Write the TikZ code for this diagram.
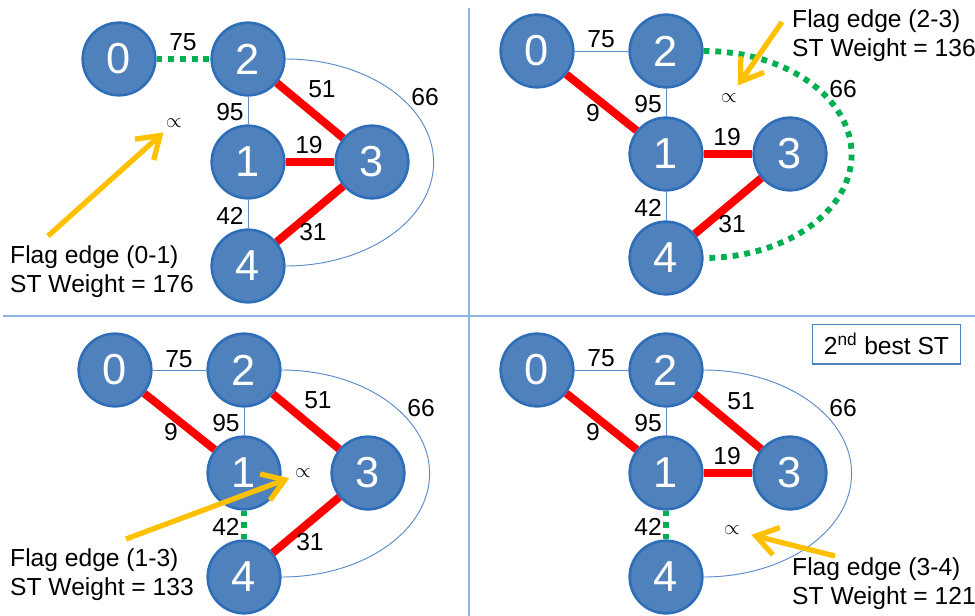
\documentclass[tikz,border=0pt]{standalone}
\usepackage{fontspec}
\setmainfont{Liberation Sans}
\usetikzlibrary{arrows.meta}

\definecolor{vfill}{HTML}{4F81BD}
\definecolor{vborder}{HTML}{2E6DB8}
\definecolor{linkblue}{HTML}{5B8BC9}
\definecolor{treered}{HTML}{FF0000}
\definecolor{flaggreen}{HTML}{00B050}
\definecolor{arrowgold}{HTML}{FFC000}
\definecolor{rule}{HTML}{8EB4E3}

\tikzset{
  vertex/.style={circle, fill=vfill, draw=vborder, line width=2.2pt,
    minimum size=62pt, inner sep=0pt, text=white,
    font=\fontsize{37}{40}\selectfont},
  weight/.style={inner sep=0pt, font=\fontsize{21}{24}\selectfont},
  link/.style={draw=linkblue, line width=0.8pt},
  tree/.style={draw=treered, line width=6.8pt},
  flag/.style={draw=flaggreen, line width=5pt, dash pattern=on 5pt off 5pt},
  pointer/.style={draw=arrowgold, line width=4.5pt,
    -{Straight Barb[length=18pt, width=24pt]}},
  inf/.style={inner sep=0pt, font=\fontsize{17}{20}\selectfont},
  note/.style={align=left, inner sep=0pt, anchor=west,
    font=\fontsize{21}{24.7}\selectfont},
  panelrule/.style={draw=rule, line width=1.2pt},
  titlebox/.style={draw=vfill, line width=1pt, minimum width=127pt,
    minimum height=34pt, inner sep=0pt, font=\fontsize{21}{24}\selectfont}
}

\begin{document}
\begin{tikzpicture}[x=0.03cm, y=-0.03cm]
  \useasboundingbox (0,0) rectangle (975,616);

  % panel rules
  \draw[panelrule] (469,8) -- (469,616);
  \draw[panelrule] (3,316) -- (975,316);

  % the same five vertices in every panel
  \foreach \p/\sx/\sy/\ty in {a/248/59/-17, b/666/51/-12, c/244/370/-11, d/666/370/-12} {
    \begin{scope}[shift={(\sx,\sy)}]
      \node[vertex] (\p2) at (0,0) {2};
      \node[vertex] (\p0) at (-129,0) {0};
      \node[vertex] (\p1) at (0,103) {1};
      \node[vertex] (\p3) at (124,103) {3};
      \node[vertex] (\p4) at (0,207) {4};
      \node[weight] (\p w75) at (-65,\ty) {75};
      \node[weight] (\p w95) at (-18,53) {95};
      \node[weight] (\p w42) at (-18,157) {42};
      \node[weight] (\p w66) at (177,38) {66};
    \end{scope}
  }

  % top left
  \draw[flag] (a0) -- (a2);
  \draw[link] (a2) -- (a1);
  \draw[tree] (a2) -- (a3);
  \draw[tree] (a1) -- (a3);
  \draw[link] (a1) -- (a4);
  \draw[tree] (a3) -- (a4);
  \draw[link] (a2.east) arc[start angle=-90, end angle=90, x radius=148, y radius=103.5];
  \node[weight] (aw51) at (322,89) {51};
  \node[weight] (aw19) at (309,145) {19};
  \node[weight] (aw31) at (313,232) {31};
  \node[inf] (ainf) at (174,123) {$\propto$};
  \coordinate (atail) at (48,236);
  \draw[pointer, shorten >=12pt] (atail) -- (ainf.center);
  \node[note] (anote) at (10,272) {Flag edge (0-1)\\ST Weight = 176};

  % top right
  \draw[link] (b0) -- (b2);
  \draw[tree] (b0) -- (b1);
  \draw[link] (b2) -- (b1);
  \draw[tree] (b1) -- (b3);
  \draw[link] (b1) -- (b4);
  \draw[tree] (b3) -- (b4);
  \draw[flag] (b2.east) arc[start angle=-90, end angle=90, x radius=148, y radius=103.5];
  \node[weight] (bw9) at (593,113) {9};
  \node[weight] (bw19) at (727,137) {19};
  \node[weight] (bw31) at (732,224) {31};
  \node[inf] (binf) at (729,98) {$\propto$};
  \coordinate (btail) at (782,22);
  \draw[pointer, shorten >=13pt] (btail) -- (binf.center);
  \node[note] (bnote) at (792,36) {Flag edge (2-3)\\ST Weight = 136};

  % bottom left
  \draw[link] (c0) -- (c2);
  \draw[tree] (c0) -- (c1);
  \draw[link] (c2) -- (c1);
  \draw[tree] (c2) -- (c3);
  \draw[flag] (c1) -- (c4);
  \draw[tree] (c3) -- (c4);
  \draw[link] (c2.east) arc[start angle=-90, end angle=90, x radius=148, y radius=103.5];
  \node[weight] (cw51) at (318,400) {51};
  \node[weight] (cw9) at (171,432) {9};
  \node[weight] (cw31) at (310,542) {31};
  \node[inf] (cinf) at (303,473) {$\propto$};
  \coordinate (ctail) at (126,539);
  \draw[pointer, shorten >=12.5pt] (ctail) -- (cinf.center);
  \node[note] (cnote) at (10,575) {Flag edge (1-3)\\ST Weight = 133};

  % bottom right
  \draw[link] (d0) -- (d2);
  \draw[tree] (d0) -- (d1);
  \draw[link] (d2) -- (d1);
  \draw[tree] (d2) -- (d3);
  \draw[tree] (d1) -- (d3);
  \draw[flag] (d1) -- (d4);
  \draw[link] (d2.east) arc[start angle=-90, end angle=90, x radius=148, y radius=103.5];
  \node[weight] (dw51) at (741,401) {51};
  \node[weight] (dw9) at (593,432) {9};
  \node[weight] (dw19) at (727,456) {19};
  \node[inf] (dinf) at (732,530) {$\propto$};
  \coordinate (dtail) at (835,556);
  \draw[pointer, shorten >=17pt] (dtail) -- (dinf.center);
  \node[note] (dnote) at (792,583.5) {Flag edge (3-4)\\ST Weight = 121};
  \node[titlebox] (dtitle) at (886.5,344) {2\textsuperscript{nd} best ST};
\end{tikzpicture}
\end{document}
